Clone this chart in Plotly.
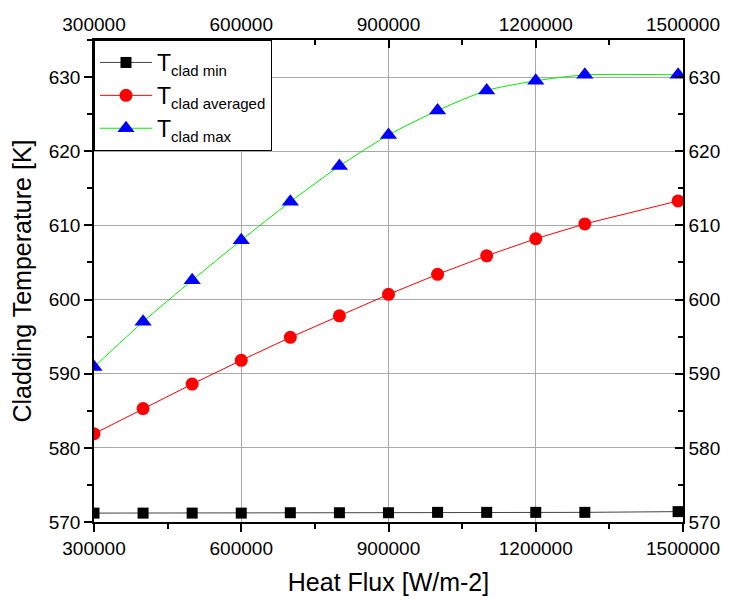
import plotly.graph_objects as go

heat_flux = [300000, 400000, 500000, 600000, 700000, 800000, 900000,
             1000000, 1100000, 1200000, 1300000, 1490000]
t_clad_min = [571.2, 571.2, 571.2, 571.2, 571.25, 571.25, 571.25,
              571.3, 571.3, 571.3, 571.3, 571.4]
t_clad_avg = [581.9, 585.3, 588.6, 591.8, 594.9, 597.8, 600.7,
              603.4, 605.9, 608.2, 610.2, 613.3]
t_clad_max = [590.9, 597.0, 602.6, 608.0, 613.2, 618.0, 622.2,
              625.5, 628.2, 629.5, 630.3, 630.3]

x_ticks = [300000, 600000, 900000, 1200000, 1500000]
y_ticks = [570, 580, 590, 600, 610, 620, 630]

FONT = "Arial, Liberation Sans, sans-serif"


def leg(sub):
    return "T<sub><span style='font-size:15px'>" + sub + "</span></sub>"


fig = go.Figure()
fig.add_trace(go.Scatter(
    x=heat_flux, y=t_clad_min, mode="lines+markers",
    name=leg("clad min"),
    line=dict(color="#444444", width=1),
    marker=dict(symbol="square", size=11, color="black")))
fig.add_trace(go.Scatter(
    x=heat_flux, y=t_clad_avg, mode="lines+markers",
    name=leg("clad averaged"),
    line=dict(color="#ff0000", width=1),
    marker=dict(symbol="circle", size=13, color="#ff0000")))
fig.add_trace(go.Scatter(
    x=heat_flux, y=t_clad_max, mode="lines+markers",
    name=leg("clad max"),
    line=dict(color="#00ee00", width=1, shape="spline", smoothing=0.6),
    marker=dict(symbol="triangle-up", size=15, color="#0000ff")))
# invisible trace to anchor secondary (mirror) axes
fig.add_trace(go.Scatter(x=[heat_flux[0]], y=[t_clad_min[0]], xaxis="x2", yaxis="y2",
                         mode="markers", marker=dict(opacity=0), showlegend=False,
                         hoverinfo="skip"))

common = dict(showline=True, linecolor="black", linewidth=1.5, automargin=False,
              tickfont=dict(family=FONT, size=19, color="black"))

fig.update_layout(
    width=726, height=594,
    margin=dict(l=86, r=51, t=32, b=80),
    paper_bgcolor="white", plot_bgcolor="white",
    font=dict(family=FONT, color="black"),
    showlegend=True,
    legend=dict(x=0, y=1, xanchor="left", yanchor="top",
                bgcolor="white", bordercolor="black", borderwidth=1,
                font=dict(family=FONT, size=23, color="black"),
                tracegroupgap=0, itemwidth=52),
    xaxis=dict(range=[300000, 1500000], tickvals=x_ticks,
               ticktext=[str(v) for v in x_ticks],
               ticks="outside", ticklen=8, tickwidth=1.5, tickcolor="black",
               minor=dict(ticks="outside", ticklen=5, tickwidth=1.5,
                          tickcolor="black", dtick=150000, tick0=300000, showgrid=False),
               showgrid=True, gridcolor="#a8a8a8", gridwidth=1, zeroline=False,
               title=dict(text="Heat Flux [W/m-2]",
                          font=dict(family=FONT, size=25, color="black"), standoff=16),
               **common),
    yaxis=dict(range=[570, 635], tickvals=y_ticks,
               ticks="outside", ticklen=8, tickwidth=1.5, tickcolor="black",
               minor=dict(ticks="outside", ticklen=5, tickwidth=1.5,
                          tickcolor="black", dtick=5, tick0=570, showgrid=False),
               showgrid=True, gridcolor="#a8a8a8", gridwidth=1, zeroline=False,
               title=dict(text="Cladding Temperature [K]",
                          font=dict(family=FONT, size=25, color="black"), standoff=12),
               **common),
    xaxis2=dict(range=[300000, 1500000], tickvals=x_ticks,
                ticktext=[str(v) for v in x_ticks],
                overlaying="x", side="top", anchor="y",
                ticks="inside", ticklen=8, tickwidth=1.5, tickcolor="black",
                minor=dict(ticks="inside", ticklen=5, tickwidth=1.5,
                           tickcolor="black", dtick=150000, tick0=300000, showgrid=False),
                showgrid=False, zeroline=False, **common),
    yaxis2=dict(range=[570, 635], tickvals=y_ticks,
                overlaying="y", side="right", anchor="x",
                ticks="inside", ticklen=8, tickwidth=1.5, tickcolor="black",
                minor=dict(ticks="inside", ticklen=5, tickwidth=1.5,
                           tickcolor="black", dtick=5, tick0=570, showgrid=False),
                showgrid=False, zeroline=False, **common),
)

fig.write_html("out.html")
